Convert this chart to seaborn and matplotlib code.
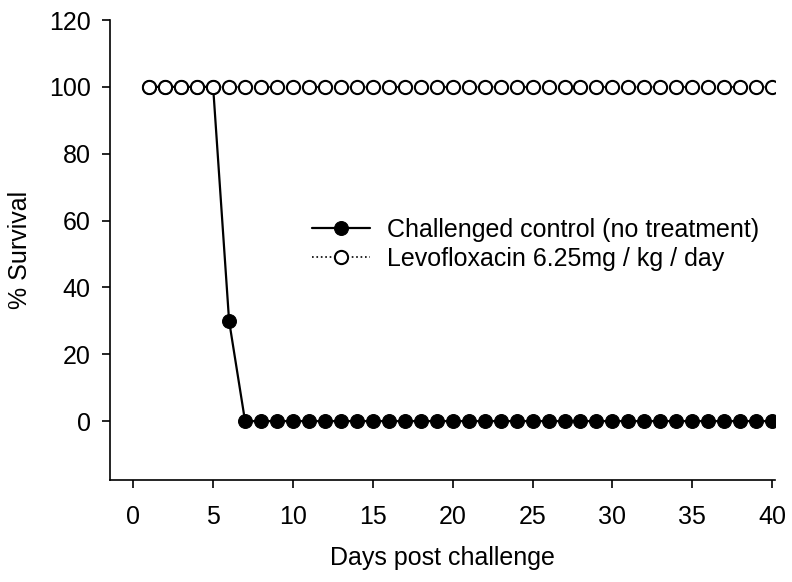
import numpy as np
import pandas as pd
import matplotlib
matplotlib.use("Agg")
import matplotlib.pyplot as plt
import seaborn as sns

days = list(range(1, 41))
control_survival = [100, 100, 100, 100, 100, 30] + [0] * 34
levo_survival = [100] * 40
control_label = "Challenged control (no treatment)"
levo_label = "Levofloxacin 6.25mg / kg / day"

sns.set_theme(style="ticks")
plt.rcParams['font.family'] = ['Liberation Sans', 'DejaVu Sans']
plt.rcParams['text.color'] = 'black'
plt.rcParams['axes.labelcolor'] = 'black'

fig = plt.figure(figsize=(7.92, 5.82), dpi=100)
ax = fig.add_axes([0.139, 0.1753, 0.840, 0.7903])

sns.lineplot(x=days, y=control_survival, ax=ax, color="black", linewidth=1.6,
             marker="o", markersize=10, markerfacecolor="black",
             markeredgecolor="black", label=control_label, zorder=2)
sns.lineplot(x=days, y=levo_survival, ax=ax, color="black", linewidth=1.2,
             linestyle=":", marker="o", markersize=9.5, markerfacecolor="white",
             markeredgecolor="black", markeredgewidth=1.5,
             label=levo_label, zorder=3)

ax.set_xlim(-1.45, 40.2)
ax.set_ylim(-17.6, 120)
ax.set_xticks(range(0, 41, 5))
ax.set_yticks(range(0, 121, 20))
ax.tick_params(axis="both", labelsize=18, direction="out", length=6, width=1.2, colors="black")
ax.tick_params(axis="x", pad=12)
ax.tick_params(axis="y", pad=8)
for s in ["top", "right"]:
    ax.spines[s].set_visible(False)
for s in ["left", "bottom"]:
    ax.spines[s].set_linewidth(1.2)
    ax.spines[s].set_color("black")

ax.set_xlabel("Days post challenge", fontsize=18, labelpad=12, color="black")
ax.set_ylabel("% Survival", fontsize=18, labelpad=12, color="black")

leg = ax.legend(loc="upper left", bbox_to_anchor=(312 / 792, 1 - 218 / 582),
                bbox_transform=fig.transFigure, frameon=False, fontsize=18,
                borderpad=0, borderaxespad=0,
                handlelength=2.3, handletextpad=0.7, labelspacing=0.2)
for t in leg.get_texts():
    t.set_color("black")

fig.savefig("out.png", dpi=100)
